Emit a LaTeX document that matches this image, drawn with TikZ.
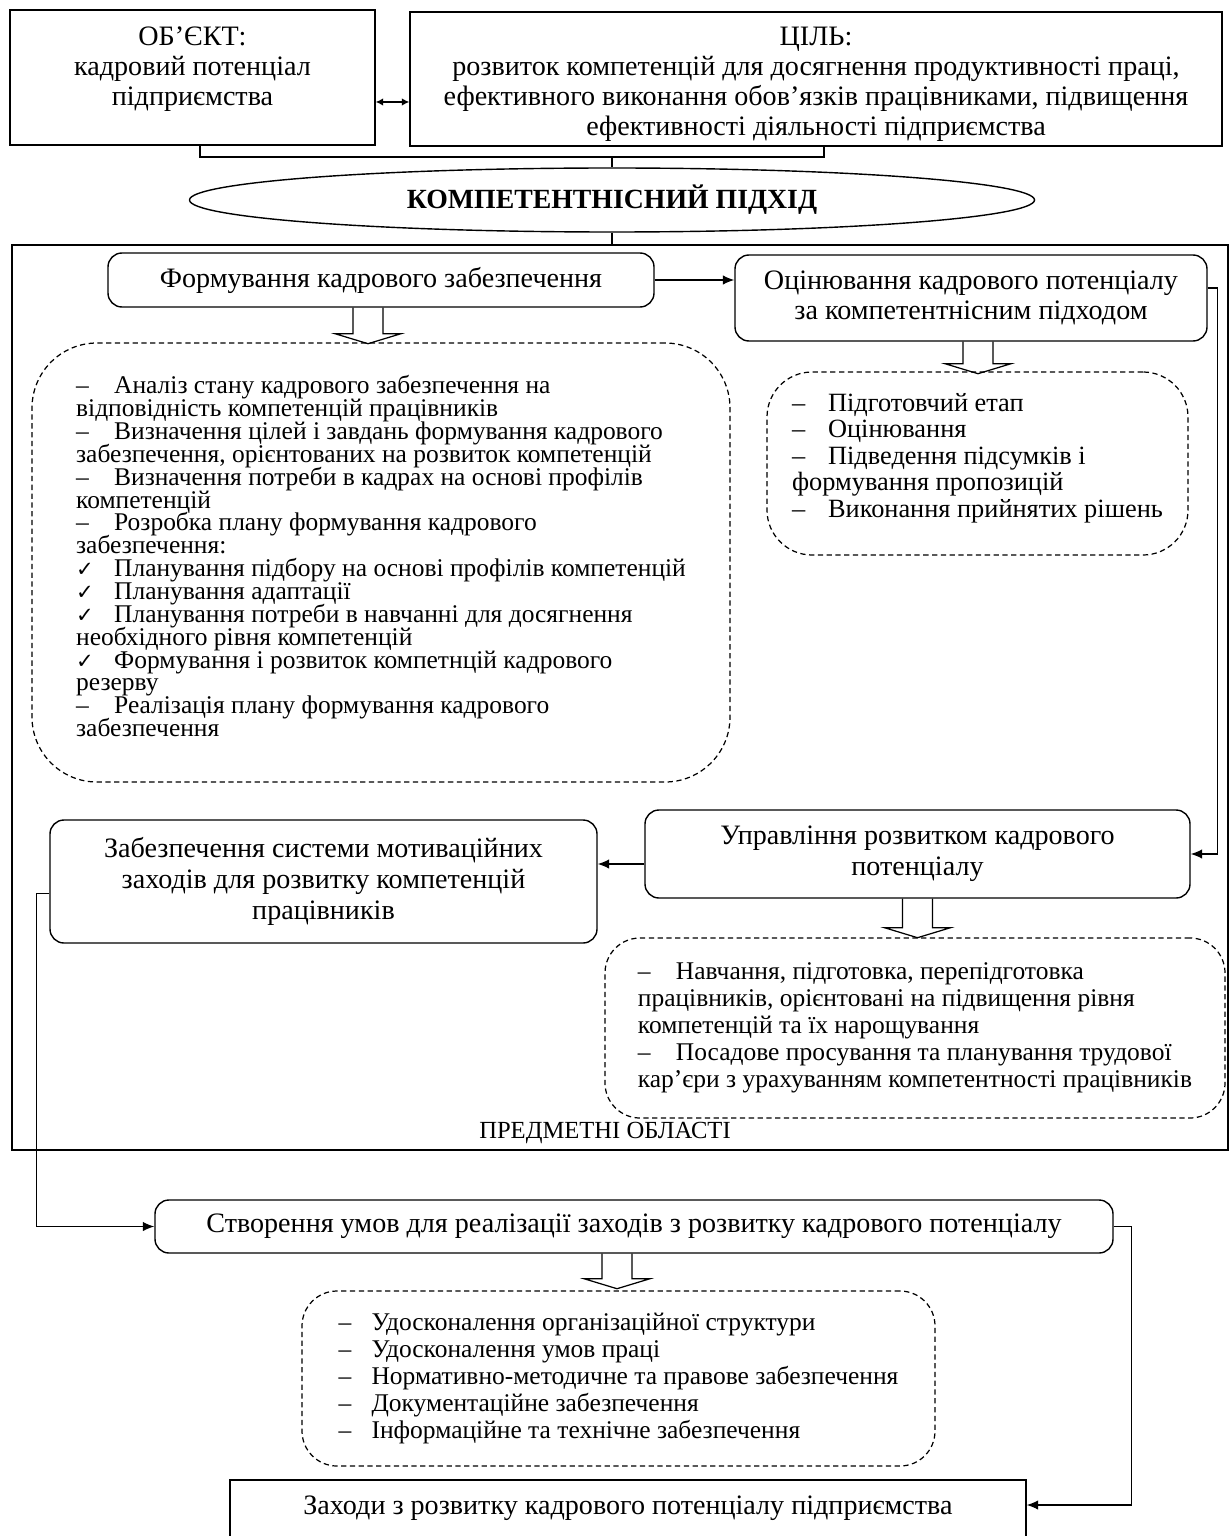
\documentclass[tikz,border=0pt]{standalone}
\usepackage{fontspec}
\usepackage{tikz}
\usetikzlibrary{shapes.geometric,arrows.meta}
\setmainfont{Liberation Serif}
\newfontfamily\symfont{DejaVu Sans}

\newcommand{\dashmark}[1][0.76cm]{\makebox[#1][l]{–}}
\newcommand{\tickmark}{\makebox[0.76cm][l]{\fontsize{12}{12}\symfont ✓}}
\newcommand{\tightlines}{\lineskiplimit=-20pt\relax}
\newcommand{\hollowdown}[2]{\draw[line width=0.7pt] (#1) ++(-0.3,0) -- ++(0,-#2) -- ++(-0.36,0) -- ++(0.66,-0.2) -- ++(0.66,0.2) -- ++(-0.36,0) -- ++(0,#2);}

\begin{document}
\begin{tikzpicture}[x=1cm,y=1cm,
  frame/.style={draw, line width=0.8pt, align=center, inner sep=2pt, font=\fontsize{16}{17}\selectfont},
  stagebox/.style={draw, line width=0.8pt, rounded corners=0.28cm, align=center, inner sep=2pt, font=\fontsize{16}{17.5}\selectfont},
  listbox/.style={draw, line width=0.7pt, dash pattern=on 3pt off 2pt, rounded corners=#1, align=left, inner sep=2pt},
  conn/.style={line width=0.7pt, -{Latex[length=2.3mm,width=1.9mm]}}]
\useasboundingbox (0,0) rectangle (24.6,-30.72);
\clip (0,0) rectangle (24.6,-30.72);

\node[frame, minimum width=7.3cm, minimum height=2.7cm] (obj) at (3.85,-1.55) {\rule{0pt}{15pt}ОБ’ЄКТ:\\кадровий потенціал\\підприємства\\\mbox{}};
\node[frame, minimum width=16.24cm, minimum height=2.68cm] (goal) at (16.32,-1.58) {\rule{0pt}{16.5pt}ЦІЛЬ:\\розвиток компетенцій для досягнення продуктивності праці,\\ефективного виконання обов’язків працівниками, підвищення\\ефективності діяльності підприємства};
\draw[line width=0.7pt, {Latex[length=1.5mm,width=1.5mm]}-{Latex[length=1.5mm,width=1.5mm]}] ([yshift=-0.49cm]obj.east) -- ([yshift=-0.49cm]obj.east -| goal.west);

\node[draw, ellipse, line width=0.8pt, minimum width=16.9cm, minimum height=1.28cm, inner sep=0pt, font=\bfseries\fontsize{15.8}{17}\selectfont] (approach) at (12.24,-4.0) {КОМПЕТЕНТНІСНИЙ ПІДХІД};
\coordinate (fork) at (12.24,-3.14);
\draw[line width=0.7pt] ([xshift=0.15cm]obj.south) |- (fork) -| ([xshift=0.16cm]goal.south);
\draw[line width=0.7pt] (fork) -- (approach.north);

\node[draw, line width=0.8pt, minimum width=24.32cm, minimum height=18.1cm, inner sep=0pt] (area) at (12.4,-13.95) {};
\draw[line width=0.7pt] (approach.south) -- (approach.south |- area.north);
\node[font=\fontsize{14}{16}\selectfont] (areaname) at (12.1,-22.66) {ПРЕДМЕТНІ ОБЛАСТІ};

\node[stagebox, minimum width=10.92cm, minimum height=1.08cm] (form) at (7.62,-5.6) {Формування кадрового забезпечення};
\node[stagebox, minimum width=9.44cm, minimum height=1.72cm] (assess) at (19.42,-5.96) {Оцінювання кадрового потенціалу\\за компетентнісним підходом};
\node[stagebox, minimum width=10.9cm, minimum height=1.76cm] (manage) at (18.35,-17.08) {Управління розвитком кадрового\\потенціалу};
\node[stagebox, minimum width=10.94cm, minimum height=2.46cm] (motiv) at (6.47,-17.63) {Забезпечення системи мотиваційних\\заходів для розвитку компетенцій\\працівників};
\node[stagebox, minimum width=19.16cm, minimum height=1.06cm] (create) at (12.68,-24.53) {Створення умов для реалізації заходів з розвитку кадрового потенціалу};
\node[frame, minimum width=15.92cm, minimum height=1.6cm] (measures) at (12.56,-30.4) {Заходи з розвитку кадрового потенціалу підприємства\\\mbox{}};

\node[listbox=1.3cm, minimum width=13.96cm, minimum height=8.78cm, font={\fontsize{14.5}{13}\selectfont\tightlines}] (formlist) at (7.62,-11.25) {\dashmark Аналіз стану кадрового забезпечення на\\відповідність компетенцій працівників\\\dashmark Визначення цілей і завдань формування кадрового\\забезпечення, орієнтованих на розвиток компетенцій\\\dashmark Визначення потреби в кадрах на основі профілів\\компетенцій\\\dashmark Розробка плану формування кадрового\\забезпечення:\\\tickmark Планування підбору на основі профілів компетенцій\\\tickmark Планування адаптації\\\tickmark Планування потреби в навчанні для досягнення\\необхідного рівня компетенцій\\\tickmark Формування і розвиток компетнцій кадрового\\резерву\\\dashmark Реалізація плану формування кадрового\\забезпечення\\[-0.2cm]\mbox{}};
\node[listbox=0.9cm, minimum width=8.42cm, minimum height=3.66cm, font=\fontsize{15}{15.1}\selectfont] (assesslist) at (19.55,-9.27) {\dashmark[0.72cm]Підготовчий етап\\\dashmark[0.72cm]Оцінювання\\\dashmark[0.72cm]Підведення підсумків і\\формування пропозицій\\\dashmark[0.72cm]Виконання прийнятих рішень\\[-0.2cm]\mbox{}};
\node[listbox=0.7cm, minimum width=12.4cm, minimum height=3.6cm, font=\fontsize{14.5}{15.4}\selectfont] (managelist) at (18.3,-20.56) {\dashmark Навчання, підготовка, перепідготовка\\працівників, орієнтовані на підвищення рівня\\компетенцій та їх нарощування\\\dashmark Посадове просування та планування трудової\\кар’єри з урахуванням компетентності працівників};
\node[listbox=0.7cm, minimum width=12.66cm, minimum height=3.5cm, font=\fontsize{14.5}{15.4}\selectfont] (createlist) at (12.37,-27.57) {\dashmark[0.66cm]Удосконалення організаційної структури\\\dashmark[0.66cm]Удосконалення умов праці\\\dashmark[0.66cm]Нормативно-методичне та правове забезпечення\\\dashmark[0.66cm]Документаційне забезпечення\\\dashmark[0.66cm]Інформаційне та технічне забезпечення};

\hollowdown{[xshift=-0.26cm]form.south}{0.52}
\hollowdown{[xshift=0.14cm]assess.south}{0.44}
\hollowdown{manage.south}{0.58}
\hollowdown{[xshift=-0.34cm]create.south}{0.5}

\draw[conn] (form.east) -- (form.east -| assess.west);
\draw[conn] ([yshift=0.2cm]assess.east) -- ++(0.2,0) |- (manage.east);
\draw[conn] ([yshift=-0.2cm]manage.west) -- ([yshift=-0.2cm]manage.west -| motiv.east);
\draw[conn] ([yshift=-0.24cm]motiv.west) -- ++(-0.26,0) |- (create.west);
\draw[conn] (create.east) -- ++(0.36,0) |- ([yshift=0.3cm]measures.east);
\end{tikzpicture}
\end{document}
